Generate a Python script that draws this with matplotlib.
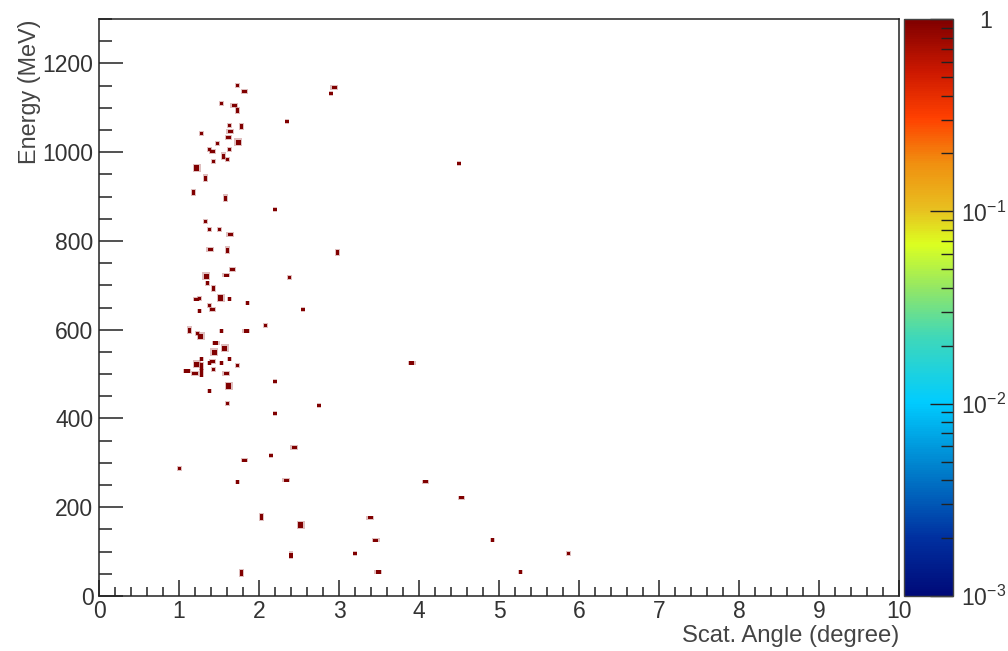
import numpy as np
import matplotlib
matplotlib.use("Agg")
import matplotlib.pyplot as plt
from matplotlib.colors import LogNorm, LinearSegmentedColormap
from matplotlib.ticker import MultipleLocator, FixedLocator, FixedFormatter

plt.rcParams['font.family'] = ['Liberation Sans', 'DejaVu Sans']
plt.rcParams['mathtext.fontset'] = 'custom'
plt.rcParams['mathtext.rm'] = 'Liberation Sans'
plt.rcParams['mathtext.it'] = 'Liberation Sans'

# --- filled bins (angle in degree, energy in MeV) ---
# single bins
dot_angle = [1.73, 1.53, 1.63, 1.28, 1.48, 1.38, 1.63, 1.61, 1.43, 1.33,
             1.38, 1.51, 1.36, 1.26, 1.63, 1.86, 1.38, 1.26, 1.23, 1.53,
             1.28, 1.63, 1.38, 1.53, 1.73, 1.43, 1.28, 1.28, 2.20, 1.38,
             1.61, 2.75, 2.20, 2.15, 1.01, 1.73, 4.92, 3.20, 5.87, 5.27,
             2.90, 2.35, 4.50, 2.20, 2.38, 2.55, 2.08]
dot_energy = [1150, 1110, 1060, 1042, 1020, 1006, 1006, 984, 979, 844,
              826, 826, 705, 671, 669, 660, 655, 642, 592, 597,
              534, 534, 525, 525, 520, 511, 507, 498, 484, 462,
              434, 430, 412, 317, 288, 257, 126, 95, 95, 54,
              1132, 1069, 975, 871, 718, 646, 610]

# two bins side by side in angle
wide_angle = [1.82, 1.69, 1.64, 1.62, 1.42, 1.64, 1.39, 1.67, 1.59, 1.22,
              1.42, 1.84, 1.46, 1.42, 1.10, 1.20, 1.59, 2.44, 1.82, 2.34,
              4.08, 4.53, 3.39, 3.46, 3.49, 2.94, 3.91]
wide_energy = [1137, 1105, 1047, 1033, 1002, 815, 781, 736, 723, 669,
               646, 597, 570, 529, 507, 502, 502, 335, 306, 261,
               257, 221, 176, 126, 54, 1146, 525]

# two bins stacked in energy
tall_angle = [1.73, 1.78, 1.56, 1.33, 1.18, 1.58, 1.61, 1.43, 1.13, 1.28,
              2.03, 2.40, 1.78, 2.98]
tall_energy = [1094, 1058, 991, 941, 909, 896, 779, 693, 599, 518,
               178, 92, 52, 774]

# 2x2 bins
big_angle = [1.74, 1.22, 1.34, 1.52, 1.27, 1.57, 1.44, 1.22, 1.62, 2.52]
big_energy = [1022, 964, 720, 671, 585, 558, 549, 522, 473, 160]

bin_content = 1.0

# ROOT-like rainbow palette
cmap = LinearSegmentedColormap.from_list("rootpal", [
    (0.00, "#000a78"), (0.10, "#0030a0"), (0.22, "#0080cc"),
    (0.335, "#00ccff"), (0.45, "#40d8b8"), (0.53, "#90e668"),
    (0.61, "#dcff20"), (0.67, "#e8c020"), (0.75, "#f09010"),
    (0.83, "#ff4000"), (0.91, "#cc1800"), (1.00, "#800000")])
norm = LogNorm(vmin=1e-3, vmax=1)

fig = plt.figure(figsize=(10.08, 6.51), dpi=100)
W, H = 1008.0, 651.0
ax = fig.add_axes([99 / W, 55 / H, 800 / W, 577 / H])
cax = fig.add_axes([904 / W, 55 / H, 49 / W, 577 / H])

wide = [(-1, -0.6), (1, -0.6), (1, 0.6), (-1, 0.6)]
tall = [(-0.6, -1), (0.6, -1), (0.6, 1), (-0.6, 1)]

groups = [(dot_angle, dot_energy, 's', 5.5),
          (wide_angle, wide_energy, wide, 14),
          (tall_angle, tall_energy, tall, 14),
          (big_angle, big_energy, 's', 15)]
sc = None
for xs, ys, mk, sz in groups:
    # soft halo like the anti-aliased original
    ax.scatter(xs, ys, c=np.full(len(xs), bin_content), cmap=cmap,
               norm=norm, marker=mk, s=sz * 2.2, linewidths=0, alpha=0.25)
    sc = ax.scatter(xs, ys, c=np.full(len(xs), bin_content), cmap=cmap,
                    norm=norm, marker=mk, s=sz, linewidths=0)

ax.set_xlim(0, 10)
ax.set_ylim(0, 1300)

for sp in ax.spines.values():
    sp.set_linewidth(1.1)
    sp.set_color('#222222')

ax.xaxis.set_major_locator(MultipleLocator(1))
ax.xaxis.set_minor_locator(MultipleLocator(0.2))
ax.yaxis.set_major_locator(MultipleLocator(200))
ax.yaxis.set_minor_locator(MultipleLocator(50))
ax.tick_params(which='both', direction='in', top=False, right=False,
               width=1.1, color='#222222', labelsize=16.5, labelcolor='#333333')
ax.xaxis.set_tick_params(which='major', length=11.5, pad=3)
ax.xaxis.set_tick_params(which='minor', length=6.2)
ax.yaxis.set_tick_params(which='major', length=17.5, pad=4)
ax.yaxis.set_tick_params(which='minor', length=9.2)

ax.set_xlabel("Scat. Angle (degree)", loc='right', fontsize=17.2,
              color='#444444', labelpad=1)
ax.set_ylabel("Energy (MeV)", loc='top', fontsize=16.8,
              color='#444444', labelpad=1)

cb = fig.colorbar(sc, cax=cax)
cb.outline.set_linewidth(1.0)
cb.outline.set_edgecolor('#444444')
major = [1e-3, 1e-2, 1e-1, 1]
cax.yaxis.set_major_locator(FixedLocator(major))
cax.yaxis.set_major_formatter(FixedFormatter(
    [r'$10^{-3}$', r'$10^{-2}$', r'$10^{-1}$', '   1']))
minor = [m * d for d in (1e-3, 1e-2, 1e-1) for m in range(2, 10)]
cax.yaxis.set_minor_locator(FixedLocator(minor))
cax.tick_params(which='both', direction='in', right=True, left=False,
                width=1.0, color='#222222', labelsize=16.5, labelcolor='#333333')
cax.tick_params(which='major', length=16.5, pad=6)
cax.tick_params(which='minor', length=8.5)

fig.savefig("out.png", dpi=100)
